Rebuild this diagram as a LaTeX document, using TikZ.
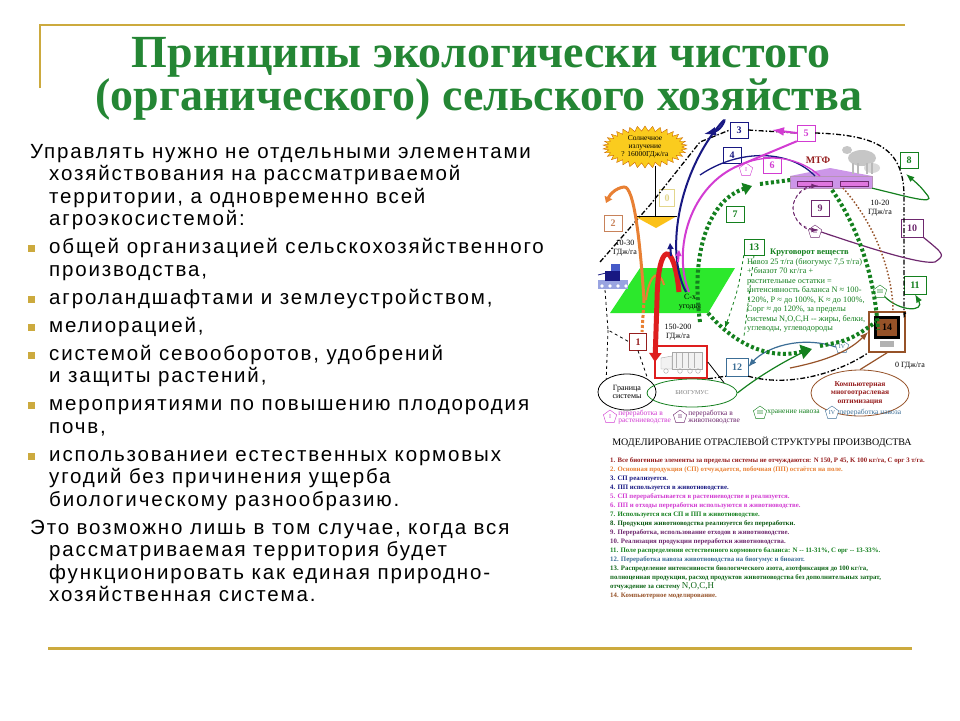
\documentclass[tikz,border=0pt]{standalone}
\usepackage{fontspec}
\setmainfont{Liberation Sans}
\newfontfamily\serifface{Liberation Serif}
\newfontfamily\bodyface[LetterSpace=9]{Liberation Sans}
\usetikzlibrary{shapes.geometric,shapes.symbols,arrows.meta,positioning}

\definecolor{titlegreen}{RGB}{36,134,52}
\definecolor{slidegold}{RGB}{204,170,62}
\definecolor{navyline}{RGB}{24,24,130}
\definecolor{pinkline}{RGB}{210,60,210}
\definecolor{cyclegreen}{RGB}{20,128,30}
\definecolor{orangeline}{RGB}{232,128,52}
\definecolor{redline}{RGB}{222,30,30}
\definecolor{plumline}{RGB}{110,40,110}
\definecolor{brownline}{RGB}{150,82,40}
\definecolor{mtfred}{RGB}{150,30,30}
\definecolor{fieldgreen}{RGB}{44,232,44}
\definecolor{stafflilac}{RGB}{204,150,232}
\definecolor{sunyellow}{RGB}{250,204,30}
\definecolor{paleyellow}{RGB}{226,214,140}
\definecolor{paleorange}{RGB}{200,130,90}
\definecolor{boxblue}{RGB}{60,110,150}
\definecolor{tractorblue}{RGB}{70,90,200}

\newcommand{\slidebullet}{\par\hangindent=19pt\hangafter=1\makebox[19pt][l]{\hspace{-2pt}\textcolor{slidegold}{\rule[1.5pt]{7pt}{7pt}}}}

\tikzset{
    slide-title/.style = {text=titlegreen, inner sep=0pt, font=\serifface\bfseries\fontsize{46}{46}\selectfont},
    num-box/.style = {draw=#1, fill=white, text=#1, rectangle, thin, minimum width=18pt, minimum height=16pt, inner sep=1pt, font=\serifface\bfseries\fontsize{10}{10}\selectfont},
    roman-mark/.style = {draw=#1, fill=white, text=#1, thin, regular polygon, regular polygon sides=5, minimum size=14pt, inner sep=0pt, font=\serifface\fontsize{6}{6}\selectfont},
    small-note/.style = {inner sep=0pt, align=center, font=\serifface\fontsize{8}{8.5}\selectfont},
    boundary-line/.style = {black, line width=1.3pt, dash pattern=on 5pt off 2pt on 1.5pt off 2pt},
    cycle-line/.style = {cyclegreen, line width=4pt, dash pattern=on 3pt off 2.5pt},
    list-line/.style = {anchor=base west, inner sep=0pt, font=\serifface\bfseries\fontsize{6.8}{7}\selectfont},
    legend-text/.style = {anchor=west, inner sep=0pt, align=left, font=\serifface\fontsize{7.5}{7.5}\selectfont},
}

\begin{document}
\begin{tikzpicture}[x=1pt, y=-1pt]
\useasboundingbox (0,0) rectangle (960,720);
\fill[white] (0,0) rectangle (960,720);
\draw[slidegold, line width=2.5pt] (40,88) -- (40,25) -- (905,25);
\draw[slidegold, line width=3pt] (48,648) -- (912,648);

\node[slide-title, anchor=base] (title-1) at (481,67) {Принципы экологически чистого};
\node[slide-title, anchor=base] (title-2) at (479,110) {(органического) сельского хозяйства};

\node[anchor=base west, inner sep=0pt] (body) at (30,158) {\begin{minipage}[t]{620pt}
    \bodyface\fontsize{20.5}{22.5}\selectfont\setlength{\parskip}{5.5pt}\setlength{\parindent}{0pt}
    \hangindent=19pt\hangafter=1 Управлять нужно не отдельными элементами\\
    хозяйствования на рассматриваемой\\
    территории, а одновременно всей\\
    агроэкосистемой:
    \slidebullet общей организацией сельскохозяйственного\\
    производства,
    \slidebullet агроландшафтами и землеустройством,
    \slidebullet мелиорацией,
    \slidebullet системой севооборотов, удобрений\\
    и защиты растений,
    \slidebullet мероприятиями по повышению плодородия\\
    почв,
    \slidebullet использованиеи естественных кормовых\\
    угодий без причинения ущерба\\
    биологическому разнообразию.
    \par\hangindent=19pt\hangafter=1 Это возможно лишь в том случае, когда вся\\
    рассматриваемая территория будет\\
    функционировать как единая природно-\\
    хозяйственная система.
\end{minipage}};

% sun and energy input
\node[starburst, starburst points=34, starburst point height=5pt, random starburst=0, fill=sunyellow, draw=orange!80!black, minimum width=84pt, minimum height=40pt, small-note, font=\serifface\fontsize{7.5}{8}\selectfont] (sun) at (645,147) {Солнечное\\излучение\\? 16000ГДж/га};
\draw[thin] (655,166) -- (655,217);
\fill[sunyellow!85!orange] (634,216) -- (677,216) -- (656,228) -- cycle;
\draw[thin] (634,216) -- (677,216);
\node[num-box=paleyellow, minimum width=15pt, minimum height=17pt] (b0) at (667,198) {0};

% field, machinery
\fill[fieldgreen] (640,268) -- (735,268) -- (708,313) -- (610,313) -- cycle;
\node[small-note, font=\serifface\fontsize{8}{9}\selectfont] (field) at (690,302) {С-х\\угодья};
\fill[tractorblue!55] (598,280) rectangle (628,289);
\fill[navyline] (605,271) rectangle (620,281);
\fill[tractorblue] (611,264) rectangle (620,271);
\draw[navyline, thick] (598,275) -- (606,273);
\foreach \k in {602,610,618,626} \fill[white] (\k,286) circle (1.8);
\node[draw=redline, line width=1.6pt, fill=white, minimum width=52pt, minimum height=32pt] (truck) at (681,362) {};
\draw[gray!70, fill=gray!10] (672,352) rectangle (702,369);
\draw[gray!70, fill=gray!10] (661,358) -- (672,356) -- (672,369) -- (661,369) -- cycle;
\foreach \k in {666,680,690,698} \draw[gray!70] (\k,371) circle (2.3);
\foreach \k in {676,682,688,694} \draw[gray!60] (\k,353) -- (\k,368);

% livestock farm
\fill[stafflilac] (790,176) -- (830,168) -- (872,176) -- cycle;
\node[fill=stafflilac, draw=plumline!50, minimum width=82pt, minimum height=12pt, inner sep=0pt] (mtf) at (831,182) {};
\filldraw[fill=pinkline!70, draw=plumline] (797,181) rectangle (832,186);
\filldraw[fill=pinkline!70, draw=plumline] (840,181) rectangle (868,186);
\node[text=mtfred, font=\serifface\bfseries\fontsize{10}{10}\selectfont] (mtf-label) at (818,160) {МТФ};
\fill[gray!45] (862,158) ellipse (14 and 8);
\fill[gray!45] (847,150) ellipse (5 and 4);
\fill[gray!30] (872,168) ellipse (8 and 5);
\foreach \k in {853,858,867,872} \draw[gray!55, line width=1.5pt] (\k,163) -- (\k,174);

% computer
\node[draw=brownline, line width=1.6pt, fill=white, minimum width=36pt, minimum height=40pt] (b14) at (887,332) {};
\fill[black] (874,316) rectangle (900,339);
\fill[brownline] (877,319) rectangle (897,336);
\node[text=black, font=\serifface\bfseries\fontsize{10}{10}\selectfont] (b14-label) at (887,327) {14};
\fill[gray!60] (880,341) rectangle (894,347);

% numbered boxes
\node[num-box=paleorange] (b2) at (613,223) {2};
\node[num-box=navyline] (b3) at (739,130) {3};
\node[num-box=navyline] (b4) at (732,155) {4};
\node[num-box=pinkline] (b5) at (806,133) {5};
\node[num-box=pinkline] (b6) at (772,165) {6};
\node[num-box=cyclegreen] (b7) at (735,214) {7};
\node[num-box=cyclegreen] (b8) at (909,160) {8};
\node[num-box=plumline] (b9) at (820,208) {9};
\node[num-box=plumline, minimum width=22pt, minimum height=18pt] (b10) at (912,228) {10};
\node[num-box=cyclegreen, minimum width=22pt, minimum height=18pt] (b11) at (915,285) {11};
\node[num-box=boxblue, minimum width=22pt, minimum height=18pt] (b12) at (737,367) {12};
\node[num-box=cyclegreen, minimum width=20pt] (b13) at (754,247) {13};
\node[num-box=mtfred, minimum width=17pt, minimum height=17pt] (b1) at (638,342) {1};

% processing marks
\node[roman-mark=pinkline] (p1) at (746,170) {I};
\node[roman-mark=plumline] (p2) at (815,232) {II};
\node[roman-mark=cyclegreen] (p3) at (880,292) {III};
\node[roman-mark=boxblue] (p4) at (842,347) {IV};

% energy labels
\node[small-note] (e1) at (625,248) {10-30\\ГДж/га};
\node[small-note] (e2) at (678,332) {150-200\\ГДж/га};
\node[small-note] (e3) at (880,208) {10-20\\ГДж/га};
\node[small-note] (e4) at (910,366) {0 ГДж/га};

% cycle text
\node[anchor=west, inner sep=0pt, text=cyclegreen, font=\serifface\bfseries\fontsize{8.5}{9}\selectfont] (cycle-head) at (770,253) {Круговорот веществ};
\node[anchor=north west, inner sep=0pt, align=left, text=cyclegreen, font=\serifface\fontsize{8.3}{9.5}\selectfont] (cycle-text) at (747,258) {Навоз 25 т/га (биогумус 7,5 т/га)\\+ биазот 70 кг/га +\\растительные остатки =\\интенсивность баланса N ≈ 100-\\120\%, P ≈ до 100\%, K ≈ до 100\%,\\Сорг ≈ до 120\%, за пределы\\системы N,O,C,H -- жиры, белки,\\углеводы, углеводороды};

% ellipses
\node[ellipse, draw, thick, minimum width=58pt, minimum height=36pt, small-note] (border) at (627,392) {Граница\\системы};
\node[ellipse, draw=cyclegreen, thick, minimum width=90pt, minimum height=28pt, small-note, text=gray, font=\serifface\fontsize{6}{6}\selectfont] (humus) at (692,393) {БИОГУМУС};
\node[ellipse, draw=brownline, thick, minimum width=98pt, minimum height=46pt, small-note, text=mtfred, font=\serifface\bfseries\fontsize{7.5}{8.5}\selectfont] (optim) at (860,393) {Компьютерная\\многоотраслевая\\оптимизация};

% system boundary
\draw[boundary-line] (600,262) -- (650,205) -- (700,142) -- (b3.west);
\draw[boundary-line] (b3.east) -- (b5.west);
\draw[boundary-line] (b5.east) .. controls (880,135) and (905,150) .. (904,200) -- (904,300) .. controls (904,320) .. (b14.north east);
\draw[boundary-line] (truck.south east) -- (b12.south west);
\draw[boundary-line] (b12.south east) .. controls (790,388) and (840,372) .. (b14.south west);
\draw[black, thick, dashed] (605,290) -- (608,330) -- (b1.west);
\draw[black, thick, dashed] (608,330) -- (border.north west);
\draw[black, thick, dashed] (b1.south) -- (border.north east);
\draw[black, thick] (truck.east) -- (humus.north east);

% flows
\draw[orangeline, line width=3pt, -{Triangle[length=6pt,width=8pt]}] (644,300) .. controls (640,240) and (634,186) .. (624,187) .. controls (616,188) and (610,194) .. (606,203);
\draw[orangeline, line width=3pt, dotted] (644,300) -- (642,332);
\draw[orangeline, line width=2pt] (646,300) .. controls (650,270) and (660,270) .. (664,285);
\draw[redline, line width=5pt, -{Triangle[length=9pt,width=12pt]}] (679,292) .. controls (674,240) and (658,240) .. (657,300) -- (655,362);
\draw[navyline, line width=2pt, -{Latex}] (686,292) .. controls (664,250) and (680,170) .. (722,122) .. controls (728,115) and (722,130) .. (704,134);
\draw[navyline, line width=2pt, -{Triangle[length=6pt,width=6pt]}] (671,256) -- (670,243);
\draw[navyline, line width=1.3pt] (700,175) .. controls (740,148) and (790,150) .. (815,176);
\draw[pinkline, line width=2pt] (689,292) .. controls (672,250) and (690,185) .. (740,165) -- (b5.south west);
\draw[pinkline, line width=2pt, -{Triangle[length=6pt,width=6pt]}] (678,262) -- (679,250);
\draw[pinkline, line width=2pt, -{Latex}] (b5.west) -- (772,130);
\draw[pinkline, line width=1.3pt] (740,165) .. controls (770,152) and (800,158) .. (820,176);
\draw[cyclegreen, line width=1.2pt, -{Latex}] (mtf.south east) .. controls (905,196) and (935,205) .. (928,196) .. controls (920,186) .. (906,174);
\draw[plumline, line width=1.2pt] (p2.east) .. controls (860,245) and (920,265) .. (935,262) .. controls (945,255) .. (b10.south east);
\draw[plumline, thick, dashed, -{Latex}] (818,186) arc (-90:-270:25 and 22);
\draw[plumline, thick, dashed, -{Latex}] (818,230) arc (90:-90:-25 and 22);
\draw[cyclegreen, line width=1.2pt, -{Latex}] (p3.south east) .. controls (900,312) and (925,312) .. (b11.south);
\draw[boxblue, line width=1.2pt, -{Latex}] (p4.west) .. controls (800,335) and (765,348) .. (b12.east);
\draw[brownline, line width=1.2pt, -{Latex}] (790,368) .. controls (830,360) and (850,350) .. (b14.west);
\draw[brownline, line width=1.2pt] (b14.south) -- (optim.north);
\draw[brownline, line width=1.5pt, dotted] (843,188) .. controls (880,230) and (893,280) .. (893,312);
\draw[cyclegreen, line width=1.2pt] (humus.east) .. controls (760,375) and (790,358) .. (808,350);
\draw[cyclegreen, thick, dashed, -{Latex}] (b13.south west) .. controls (738,290) .. (725,328);
\draw[cyclegreen, thick, dashed] (b13.south) -- (744,336);

% circulation loop
\draw[cycle-line, -{Triangle[length=9pt,width=12pt]}] (700,322) .. controls (690,250) and (710,200) .. (752,186);
\draw[cycle-line] (760,184) -- (790,180);
\draw[cycle-line] (832,190) .. controls (860,230) and (875,280) .. (878,330);
\draw[cycle-line, -{Triangle[length=11pt,width=14pt]}] (708,313) .. controls (735,345) and (770,360) .. (812,349);
\draw[cycle-line] (820,346) .. controls (850,340) .. (876,322);

% legend
\node[roman-mark=pinkline] (lg1) at (610,417) {I};
\node[legend-text, text=pinkline, right=2pt of lg1] (lg1-text) {переработка в\\растениеводстве};
\node[roman-mark=plumline] (lg2) at (680,417) {II};
\node[legend-text, text=plumline, right=2pt of lg2] (lg2-text) {переработка в\\животноводстве};
\node[roman-mark=cyclegreen] (lg3) at (760,413) {III};
\node[legend-text, text=cyclegreen, right=1pt of lg3] (lg3-text) {хранение навоза};
\node[roman-mark=boxblue] (lg4) at (832,413) {IV};
\node[legend-text, text=boxblue, right=1pt of lg4] (lg4-text) {переработка навоза};

% model list
\node[inner sep=0pt, font=\serifface\fontsize{10}{10}\selectfont] (model-title) at (762,442) {МОДЕЛИРОВАНИЕ ОТРАСЛЕВОЙ СТРУКТУРЫ ПРОИЗВОДСТВА};
\node[list-line, text=mtfred] (item-1) at (610,462) {1. Все биогенные элементы за пределы системы не отчуждаются: N 150, P 45, K 100 кг/га, С орг 3 т/га.};
\node[list-line, text=orangeline] (item-2) at (610,471) {2. Основная продукция (СП) отчуждается, побочная (ПП) остаётся на поле.};
\node[list-line, text=navyline] (item-3) at (610,480) {3. СП реализуется.};
\node[list-line, text=navyline] (item-4) at (610,489) {4. ПП используется в животноводстве.};
\node[list-line, text=pinkline] (item-5) at (610,498) {5. СП перерабатывается в растениеводстве и реализуется.};
\node[list-line, text=pinkline] (item-6) at (610,507) {6. ПП и отходы переработки используются в животноводстве.};
\node[list-line, text=cyclegreen] (item-7) at (610,516) {7. Используется вся СП и ПП в животноводстве.};
\node[list-line, text=cyclegreen!70!black] (item-8) at (610,525) {8. Продукция животноводства реализуется без переработки.};
\node[list-line, text=plumline] (item-9) at (610,534) {9. Переработка, использование отходов в животноводстве.};
\node[list-line, text=plumline] (item-10) at (610,543) {10. Реализация продукции переработки животноводства.};
\node[list-line, text=cyclegreen] (item-11) at (610,552) {11. Поле распределения естественного кормового баланса: N -- 11-31\%, С орг -- 13-33\%.};
\node[list-line, text=boxblue] (item-12) at (610,561) {12. Переработка навоза животноводства на биогумус и биоазот.};
\node[list-line, text=cyclegreen!80!black] (item-13) at (610,570) {13. Распределение интенсивности биологического азота, азотфиксация до 100 кг/га,};
\node[list-line, text=cyclegreen!80!black] (item-13b) at (610,579) {полноценная продукция, расход продуктов животноводства без дополнительных затрат,};
\node[list-line, text=cyclegreen!80!black] (item-13c) at (610,588) {отчуждение за систему {\fontsize{9}{9}\mdseries\selectfont N,O,C,H}};
\node[list-line, text=brownline] (item-14) at (610,597) {14. Компьютерное моделирование.};
\end{tikzpicture}
\end{document}
